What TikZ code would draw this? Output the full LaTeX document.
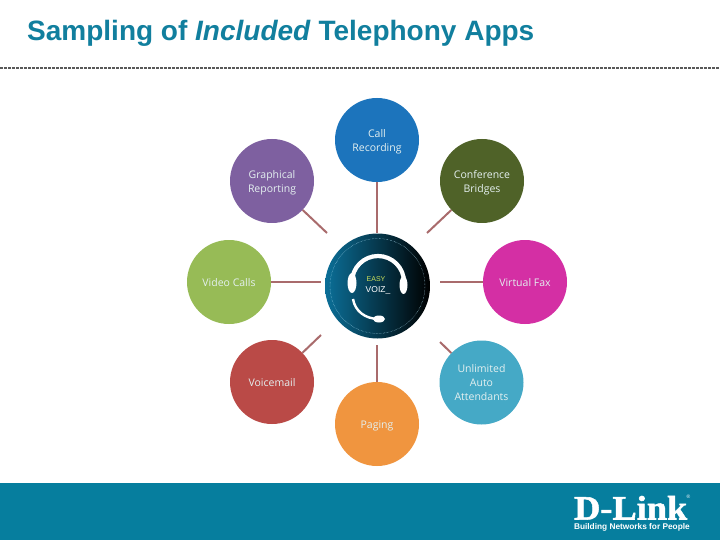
\documentclass[tikz,border=0pt]{standalone}
\usepackage{fontspec}
\setmainfont{Liberation Sans}
\newfontfamily\labelfont{Open Sans}
\newfontfamily\logofont[FakeStretch=1.07,FakeBold=1.5]{Liberation Serif}
\definecolor{titleblue}{HTML}{117F9E}
\definecolor{bandblue}{HTML}{067E9E}
\definecolor{linkred}{HTML}{A96B6C}
\definecolor{cCall}{HTML}{1C74BC}
\definecolor{cConf}{HTML}{4F6228}
\definecolor{cFax}{HTML}{D42FA4}
\definecolor{cAuto}{HTML}{45A9C6}
\definecolor{cPage}{HTML}{F0953F}
\definecolor{cMail}{HTML}{BA4A47}
\definecolor{cVideo}{HTML}{97BB56}
\definecolor{cGraph}{HTML}{7E60A0}
\definecolor{hubblue}{HTML}{0B6F98}
\definecolor{hubmid}{HTML}{07405A}
\definecolor{labeltint}{HTML}{E4F0F0}
\newcommand{\applabel}[1]{\vbox{\vskip3pt\hbox{\begin{tabular}{@{}c@{}}#1\end{tabular}}}}
\tikzset{
  app/.style={circle,minimum size=84pt,inner sep=0pt,text=labeltint,
    font=\labelfont\fontsize{10.5}{14}\selectfont},
  link/.style={draw=linkred,line width=2pt},
}
\begin{document}
\begin{tikzpicture}[x=1pt,y=-1pt]
\useasboundingbox (0,0) rectangle (720,540);
\fill[white] (0,0) rectangle (720,540);
\node[anchor=base west,inner sep=0pt,text=titleblue,font=\fontsize{28}{32}\selectfont\bfseries] (title) at (27,40.5) {Sampling of \textit{Included} Telephony Apps};
\coordinate (ruleL) at (0,68);
\coordinate (ruleR) at (720,68);
\draw[line width=1.1pt,black!65,dash pattern=on 3pt off 1pt] (ruleL) -- (ruleR);
\fill[bandblue] (0,483) rectangle (720,540);

\node[app,fill=cCall] (call) at (377,140) {\applabel{Call\\Recording}};
\node[app,fill=cConf] (conf) at (482,181) {\applabel{Conference\\Bridges}};
\node[app,fill=cFax] (fax) at (525,282) {\applabel{Virtual Fax}};
\node[app,fill=cAuto] (auto) at (481.5,382.5) {\applabel{Unlimited\\Auto\\Attendants}};
\node[app,fill=cPage] (page) at (377,424) {\applabel{Paging}};
\node[app,fill=cMail] (mail) at (272,382) {\applabel{Voicemail}};
\node[app,fill=cVideo] (video) at (229,282) {\applabel{Video Calls}};
\node[app,fill=cGraph] (graph) at (272,181) {\applabel{Graphical\\Reporting}};

\node[circle,minimum size=105pt,inner sep=0pt,left color=hubblue,middle color=hubmid,right color=black] (hub) at (377.5,286) {};
\draw[white!70!cyan,line width=.4pt,densely dotted] (hub.center) circle (47.5);
% headset
\draw[white,line width=4.2pt] (352,282) arc[start angle=180,end angle=360,radius=26];
\fill[white] (352,283) ellipse (4.5 and 10);
\fill[white] (403.5,285) ellipse (4 and 9);
\draw[white,line width=2.4pt] (353,299) .. controls (355,311) and (365,319) .. (379,319);
\fill[white] (379,319) ellipse (6 and 3.5);
\node[inner sep=0pt,text={rgb,255:red,205;green,225;blue,90},font=\fontsize{7}{7}\selectfont] (easy) at (376,279) {EASY};
\node[inner sep=0pt,text=white,font=\fontsize{8.5}{9}\selectfont] (voiz) at (378,290) {VOIZ\_};

\coordinate (endCall) at (377,232.5);
\coordinate (endPage) at (377,345);
\coordinate (endVideo) at (321,282);
\coordinate (endFax) at (440,282);
\coordinate (endGraph) at (327,233);
\coordinate (endConf) at (427,233);
\coordinate (endMail) at (321,335);
\coordinate (endAuto) at (440,342);
\draw[link] (call) -- (endCall);
\draw[link] (page) -- (endPage);
\draw[link] (video) -- (endVideo);
\draw[link] (fax) -- (endFax);
\draw[link] (graph) -- (endGraph);
\draw[link] (conf) -- (endConf);
\draw[link] (mail) -- (endMail);
\draw[link] (auto) -- (endAuto);

\node[anchor=base east,inner sep=0pt,text=white,font=\logofont\bfseries\fontsize{34}{34}\selectfont] (logo) at (687.5,519.5) {D-Link};
\node[inner sep=0pt,text=white,font=\fontsize{5}{5}\selectfont] (reg) at (688.5,497) {®};
\node[anchor=base east,inner sep=0pt,text=white,font=\bfseries\fontsize{8.3}{9}\selectfont] (tag) at (690,529.5) {Building Networks for People};
\end{tikzpicture}
\end{document}
